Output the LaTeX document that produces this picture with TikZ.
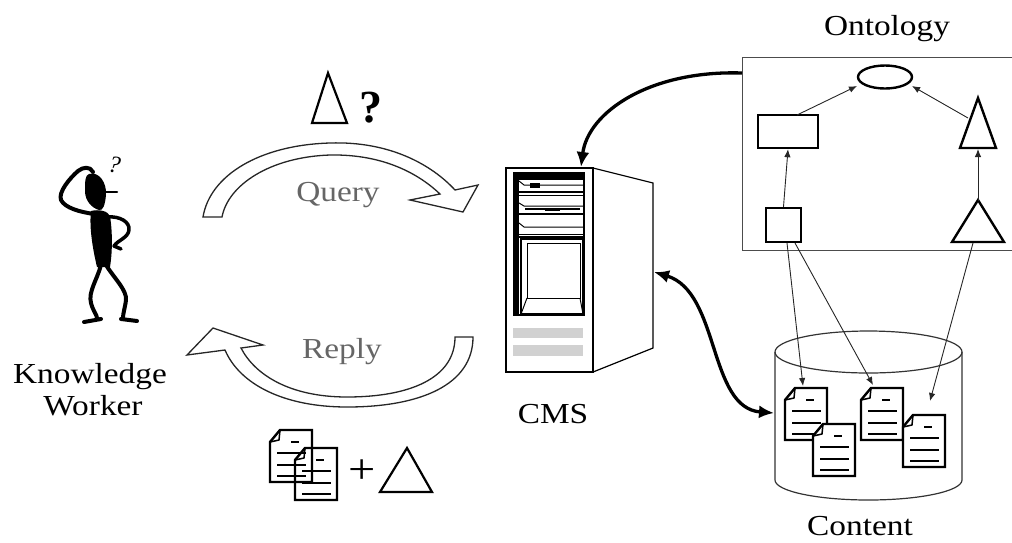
\documentclass[tikz,border=0pt]{standalone}
\usepackage{fontspec}
\setmainfont{Liberation Serif}
\newfontfamily\labelfont{Liberation Serif}[FakeStretch=1.15]
\usetikzlibrary{arrows.meta,shapes.geometric}

\tikzset{
  lbl/.style={font=\labelfont\fontsize{29}{34}\selectfont, anchor=base, inner sep=0pt},
  glbl/.style={lbl, text=black!60},
  hollow/.style={draw=black!85, line width=1.3pt, fill=white, line join=miter},
  fatlink/.style={line width=3.3pt, -{Latex[length=15pt,width=13pt]}},
  fatboth/.style={line width=3.3pt, {Latex[length=15pt,width=13pt]}-{Latex[length=15pt,width=13pt]}},
  thinlink/.style={line width=0.9pt, draw=black!85, -{Latex[length=8pt,width=6.5pt]}},
  ontoshape/.style={draw, line width=2.4pt, inner sep=0pt, fill=white},
  docbg/.style={fill=white},
  docpage/.pic={
    \filldraw[docbg, line width=2.4pt, line join=miter]
      (10,0) -- (42,0) -- (42,52) -- (0,52) -- (0,12) -- cycle;
    \draw[line width=1.5pt, line join=round] (0,12) -- (9,10) -- (10,0);
    \draw[line width=2pt] (21,12) -- (29,12);
    \draw[line width=2pt] (7,23) -- (36,23) (7,35) -- (36,35) (7,46) -- (36,46);
  }
}

\begin{document}
\begin{tikzpicture}[x=1pt,y=-1pt]
\useasboundingbox (0,0) rectangle (1012,542);

% ---------- knowledge worker ----------
\begin{scope}[line cap=round, line join=round]
  \fill (89,174) .. controls (99,171) and (107,183) .. (106,195)
        .. controls (105,205) and (103,211) .. (99,210)
        .. controls (92,208) and (85,201) .. (85,191)
        .. controls (85,182) and (85,175) .. (89,174) -- cycle;
  \draw[line width=2.5pt] (104,192) -- (117,192);
  \draw[line width=4pt] (94,214) .. controls (80,212) and (65,208) .. (61,200)
        .. controls (58,192) and (70,178) .. (78,171)
        .. controls (83,167) and (90,166) .. (93,172);
  \fill (91,211) .. controls (99,209) and (108,211) .. (110,216)
        .. controls (113,235) and (112,255) .. (110,267) -- (97,267)
        .. controls (93,250) and (89,228) .. (91,211) -- cycle;
  \draw[line width=3.5pt] (108,217) .. controls (120,216) and (130,222) .. (129,230)
        .. controls (128,238) and (118,240) .. (114,246) -- (121,249);
  \draw[line width=4pt] (101,265) .. controls (97,280) and (88,292) .. (91,303)
        .. controls (93,311) and (97,315) .. (97,318);
  \draw[line width=4pt] (84,322) -- (101,319);
  \draw[line width=4pt] (106,265) .. controls (114,278) and (127,290) .. (126,300)
        .. controls (125,308) and (123,313) .. (123,318);
  \draw[line width=4pt] (121,319) -- (137,321);
\end{scope}
\node[inner sep=0pt, anchor=base, font=\itshape\fontsize{24}{26}\selectfont, rotate=-10] (wonder) at (113,173) {?};
\node[lbl] (kw1) at (90,383) {Knowledge};
\node[lbl] (kw2) at (93,415) {Worker};

% ---------- query / reply ----------
\path[hollow] (203,217) .. controls (210,175) and (260,145) .. (330,143)
      .. controls (390,141) and (432,165) .. (455,190) -- (478,185) -- (463,212)
      -- (410,200) -- (440,194)
      .. controls (420,175) and (385,154) .. (330,155)
      .. controls (270,157) and (228,185) .. (222,217) -- cycle;
\node[glbl] (qlabel) at (338,201) {Query};
\draw[line width=2.2pt, line join=miter] (328,73) -- (312,123) -- (347,123) -- cycle;
\node[inner sep=0pt, anchor=base, font=\bfseries\fontsize{46}{50}\selectfont] (qmark) at (371,122) {?};

\path[hollow] (473,337) .. controls (473,385) and (420,407) .. (347,407)
      .. controls (285,407) and (240,385) .. (225,350) -- (187,355) -- (213,328)
      -- (263,345) -- (241,348)
      .. controls (255,375) and (290,397) .. (347,397)
      .. controls (410,397) and (455,378) .. (455,337) -- cycle;
\node[glbl] (rlabel) at (342,358) {Reply};
\pic[docbg/.style={fill=none}] at (270,430) {docpage};
\pic[docbg/.style={fill=none}] at (295,448) {docpage};
\node[inner sep=0pt, font=\labelfont\fontsize{42}{44}\selectfont] (plus) at (362,472) {+};
\draw[line width=2.2pt, line join=miter] (407,448) -- (380,492) -- (432,492) -- cycle;

% ---------- CMS server ----------
\begin{scope}[line join=miter]
  \draw[line width=1.2pt] (593,168) -- (653,183) -- (653,348) -- (593,372);
  \draw[line width=2.6pt] (506,168) rectangle (593,372);
  \fill (513,172) rectangle (519,316);
  \draw[line width=2.2pt] (516,173) rectangle (584,315);
  \fill (516,173) rectangle (584,180);
  \draw[line width=1pt] (519,181) -- (524,185) -- (584,185);
  \fill (530,183) rectangle (540,188);
  \draw[line width=2pt] (519,192) -- (584,192);
  \draw[line width=1pt] (519,195) -- (584,195);
  \draw[line width=1pt] (519,203) -- (524,206) -- (584,206);
  \draw[line width=1.6pt] (525,209) -- (580,209);
  \fill (545,207.5) rectangle (560,210.5);
  \draw[line width=2pt] (519,214) -- (584,214);
  \draw[line width=1pt] (519,223) -- (524,227) -- (584,227);
  \draw[line width=1pt] (519,234) -- (584,234);
  \draw[line width=2pt] (519,237) -- (584,237);
  \draw[line width=1.8pt] (521,239) rectangle (583,314);
  \draw[line width=1pt] (527,243) rectangle (580,298);
  \draw[line width=1pt] (527,298) -- (521,314) (580,298) -- (583,314);
  \fill[black!18] (513,328) rectangle (583,338);
  \fill[black!18] (513,345) rectangle (583,356);
\end{scope}
\node[lbl] (cms) at (553,423) {CMS};

% ---------- ontology ----------
\draw[line width=1pt, draw=black!70] (1016,57) -- (742,57) -- (742,250) -- (1016,250);
\node[lbl] (ontolabel) at (887,35) {Ontology};
\node[ontoshape, ellipse, minimum width=54pt, minimum height=23pt] (cls) at (885,77) {};
\node[ontoshape, rectangle, minimum width=60pt, minimum height=33pt] (rectA) at (788,131.5) {};
\node[ontoshape, rectangle, minimum width=35pt, minimum height=34pt] (sqA) at (783.5,225) {};
\draw[line width=2.4pt, line join=miter] (978,98) -- (960,148) -- (996,148) -- cycle;
\draw[line width=2.4pt, line join=miter] (978,200) -- (952,242) -- (1004,242) -- cycle;

\coordinate (rectTop) at (797,115);
\coordinate (clsL) at (857,86);
\coordinate (triUside) at (968,118);
\coordinate (clsR) at (912,86);
\coordinate (triUbase) at (978,149);
\coordinate (triLapex) at (978,201);
\coordinate (sqBotA) at (787,243);
\coordinate (sqBotB) at (795,243);
\coordinate (triLbase) at (973,243);

\draw[thinlink] (rectTop) -- (clsL);
\draw[thinlink] (triUside) -- (clsR);
\draw[thinlink] (sqA.north) -- (rectA.south);
\draw[thinlink] (triLapex) -- (triUbase);

% ---------- content store ----------
\draw[line width=1.2pt, draw=black!80] (775,352) -- (775,480)
      arc[start angle=180, end angle=0, x radius=93.5, y radius=20] -- (962,352);
\draw[line width=1.2pt, draw=black!80] (868.5,352) ellipse[x radius=93.5, y radius=21];
\pic at (785,388) {docpage};
\pic at (813,424) {docpage};
\pic at (861,388) {docpage};
\pic at (903,415) {docpage};
\node[lbl] (contentlabel) at (860,535) {Content};

\coordinate (docAtop) at (803,386);
\coordinate (docCtop) at (873,385);
\coordinate (docDtop) at (930,401);
\draw[thinlink] (sqBotA) -- (docAtop);
\draw[thinlink] (sqBotB) -- (docCtop);
\draw[thinlink] (triLbase) -- (docDtop);

% ---------- CMS links ----------
\coordinate (ontoL) at (742,73);
\coordinate (srvTop) at (581,167);
\coordinate (srvSide) at (654,272);
\coordinate (cylL) at (774,413);
\draw[fatlink] (ontoL) .. controls (650,70) and (588,112) .. (srvTop);
\draw[fatboth] (srvSide) .. controls (720,292) and (708,408) .. (cylL);
\end{tikzpicture}
\end{document}
